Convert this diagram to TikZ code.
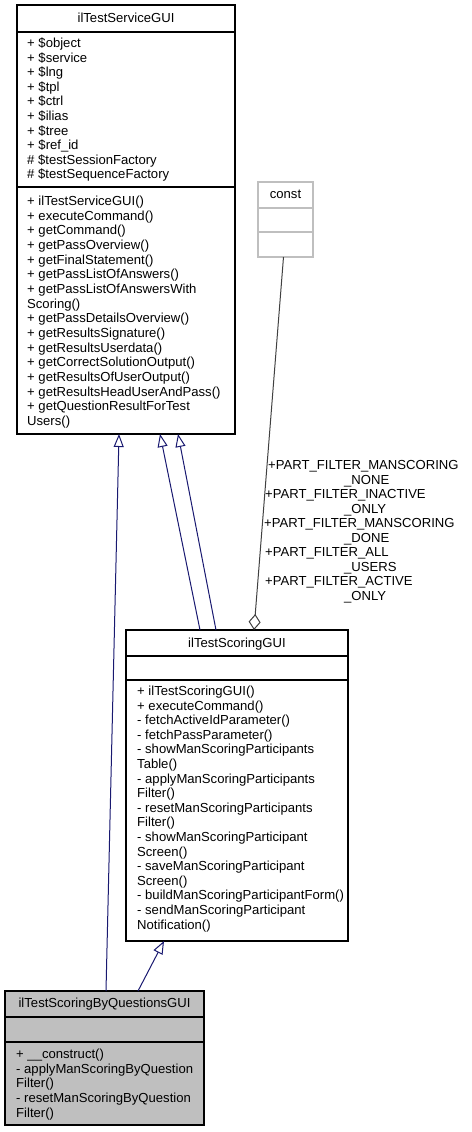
\documentclass[tikz,border=0pt]{standalone}
\usepackage{fontspec}
\setmainfont{Liberation Sans}
\usetikzlibrary{arrows.meta,calc}
\definecolor{edgeblue}{HTML}{191970}
\definecolor{dgray}{HTML}{404040}
\definecolor{lgray}{HTML}{BFBFBF}
\begin{document}
\begin{tikzpicture}[x=1pt,y=-1pt,font=\fontsize{13.1}{14.6}\selectfont,
  box/.style={draw=black,line width=1.1pt,inner sep=0pt,outer sep=0pt},
  sep/.style={line width=1.1pt},
  txt/.style={anchor=base west,inner sep=0pt},
  ttl/.style={anchor=base,inner sep=0pt},
  gen/.style={draw=edgeblue,line width=1pt,-{Triangle[open,length=13pt,width=10pt]}},
  agg/.style={draw=dgray,line width=1pt,-{Diamond[open,length=16pt,width=12pt]}}]
\useasboundingbox (0,0) rectangle (471,1132);

% ilTestServiceGUI
\node[box,minimum width=218pt,minimum height=429pt] (b1) at (126,219.5) {};
\draw[sep] (b1.west |- 0,32) -- (b1.east |- 0,32);
\draw[sep] (b1.west |- 0,187) -- (b1.east |- 0,187);
\node[ttl] (b1t) at (126,22.5) {ilTestServiceGUI};
\foreach \t [count=\i from 0] in {+ \$object,+ \$service,+ \$lng,+ \$tpl,+ \$ctrl,+ \$ilias,+ \$tree,+ \$ref\_id,\# \$testSessionFactory,\# \$testSequenceFactory}
  \node[txt] (b1a\i) at (27,47.5+\i*14.6) {\t};
\foreach \t [count=\i from 0] in {+ ilTestServiceGUI(),+ executeCommand(),+ getCommand(),+ getPassOverview(),+ getFinalStatement(),+ getPassListOfAnswers(),+ getPassListOfAnswersWith,Scoring(),+ getPassDetailsOverview(),+ getResultsSignature(),+ getResultsUserdata(),+ getCorrectSolutionOutput(),+ getResultsOfUserOutput(),+ getResultsHeadUserAndPass(),+ getQuestionResultForTest,Users()}
  \node[txt] (b1m\i) at (27,205.5+\i*14.67) {\t};

% const
\node[box,draw=lgray,minimum width=55pt,minimum height=75pt] (cst) at (285.5,219.5) {};
\draw[sep,lgray] (cst.west |- 0,208) -- (cst.east |- 0,208);
\draw[sep,lgray] (cst.west |- 0,232) -- (cst.east |- 0,232);
\node[ttl] (cstt) at (285.5,198.5) {const};

% ilTestScoringGUI
\node[box,minimum width=222pt,minimum height=311pt] (b2) at (237,785.5) {};
\draw[sep] (b2.west |- 0,656) -- (b2.east |- 0,656);
\draw[sep] (b2.west |- 0,680) -- (b2.east |- 0,680);
\node[ttl] (b2t) at (237,647.5) {ilTestScoringGUI};
\foreach \t [count=\i from 0] in {+ ilTestScoringGUI(),+ executeCommand(),- fetchActiveIdParameter(),- fetchPassParameter(),- showManScoringParticipants,Table(),- applyManScoringParticipants,Filter(),- resetManScoringParticipants,Filter(),- showManScoringParticipant,Screen(),- saveManScoringParticipant,Screen(),- buildManScoringParticipantForm(),- sendManScoringParticipant,Notification()}
  \node[txt] (b2m\i) at (137,695.5+\i*14.6) {\t};

% ilTestScoringByQuestionsGUI
\node[box,fill=lgray,minimum width=199pt,minimum height=134pt] (b3) at (104.5,1058) {};
\draw[sep] (b3.west |- 0,1017) -- (b3.east |- 0,1017);
\draw[sep] (b3.west |- 0,1042) -- (b3.east |- 0,1042);
\node[ttl] (b3t) at (104.5,1007.5) {ilTestScoringByQuestionsGUI};
\foreach \t [count=\i from 0] in {+ \_\_construct(),- applyManScoringByQuestion,Filter(),- resetManScoringByQuestion,Filter()}
  \node[txt] (b3m\i) at (16,1058.5+\i*14.7) {\t};

% connectors
\draw[gen] ($(b3.north west)+(101,0)$) -- ($(b1.south west)+(102,0)$);
\draw[gen] ($(b2.north west)+(74,0)$) -- ($(b1.south west)+(143,0)$);
\draw[gen] ($(b2.north west)+(90,0)$) -- ($(b1.south west)+(161,0)$);
\draw[gen] ($(b3.north west)+(133,0)$) -- ($(b2.south west)+(38,0)$);
\draw[agg] ($(cst.south west)+(25.5,0)$) -- ($(b2.north west)+(128,0)$);

% label
\node[txt] (l0) at (268,469.5) {+PART\_FILTER\_MANSCORING};
\node[txt] (l1) at (344,484) {\_NONE};
\node[txt] (l2) at (265,498.5) {+PART\_FILTER\_INACTIVE};
\node[txt] (l3) at (344,513) {\_ONLY};
\node[txt] (l4) at (264,527.5) {+PART\_FILTER\_MANSCORING};
\node[txt] (l5) at (344,542) {\_DONE};
\node[txt] (l6) at (265,556.5) {+PART\_FILTER\_ALL};
\node[txt] (l7) at (344,571) {\_USERS};
\node[txt] (l8) at (265,585.5) {+PART\_FILTER\_ACTIVE};
\node[txt] (l9) at (344,600) {\_ONLY};
\end{tikzpicture}
\end{document}
